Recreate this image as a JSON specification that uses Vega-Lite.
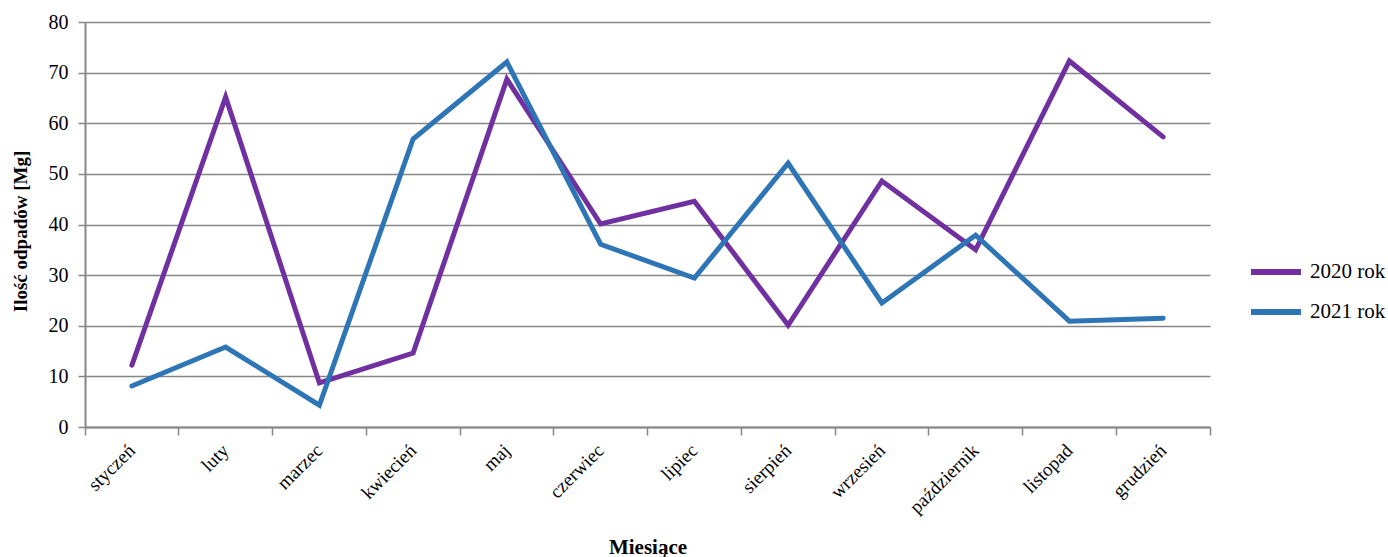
{
  "$schema": "https://vega.github.io/schema/vega-lite/v6.json",
  "autosize": "none",
  "width": 1125,
  "height": 405,
  "padding": {"left": 85, "top": 22, "right": 178, "bottom": 130},
  "background": "white",
  "config": {
    "font": "Liberation Serif",
    "view": {"stroke": null}
  },
  "data": {
    "values": [
      {"miesiac": "styczeń", "rok": "2020 rok", "wartosc": 12.2},
      {"miesiac": "luty", "rok": "2020 rok", "wartosc": 65.2},
      {"miesiac": "marzec", "rok": "2020 rok", "wartosc": 8.7},
      {"miesiac": "kwiecień", "rok": "2020 rok", "wartosc": 14.6},
      {"miesiac": "maj", "rok": "2020 rok", "wartosc": 68.7},
      {"miesiac": "czerwiec", "rok": "2020 rok", "wartosc": 40.1},
      {"miesiac": "lipiec", "rok": "2020 rok", "wartosc": 44.6},
      {"miesiac": "sierpień", "rok": "2020 rok", "wartosc": 20.1},
      {"miesiac": "wrzesień", "rok": "2020 rok", "wartosc": 48.6},
      {"miesiac": "październik", "rok": "2020 rok", "wartosc": 35.0},
      {"miesiac": "listopad", "rok": "2020 rok", "wartosc": 72.3},
      {"miesiac": "grudzień", "rok": "2020 rok", "wartosc": 57.3},
      {"miesiac": "styczeń", "rok": "2021 rok", "wartosc": 8.1},
      {"miesiac": "luty", "rok": "2021 rok", "wartosc": 15.8},
      {"miesiac": "marzec", "rok": "2021 rok", "wartosc": 4.3},
      {"miesiac": "kwiecień", "rok": "2021 rok", "wartosc": 56.9},
      {"miesiac": "maj", "rok": "2021 rok", "wartosc": 72.1},
      {"miesiac": "czerwiec", "rok": "2021 rok", "wartosc": 36.1},
      {"miesiac": "lipiec", "rok": "2021 rok", "wartosc": 29.4},
      {"miesiac": "sierpień", "rok": "2021 rok", "wartosc": 52.1},
      {"miesiac": "wrzesień", "rok": "2021 rok", "wartosc": 24.5},
      {"miesiac": "październik", "rok": "2021 rok", "wartosc": 37.9},
      {"miesiac": "listopad", "rok": "2021 rok", "wartosc": 20.9},
      {"miesiac": "grudzień", "rok": "2021 rok", "wartosc": 21.5}
    ]
  },
  "mark": {"type": "line", "strokeWidth": 5, "strokeJoin": "miter", "strokeCap": "round"},
  "encoding": {
    "x": {
      "field": "miesiac",
      "type": "nominal",
      "sort": null,
      "bandPosition": 0.5,
      "scale": {"type": "band", "paddingInner": 0, "paddingOuter": 0},
      "axis": {
        "title": "Miesiące",
        "titleFont": "Liberation Serif",
        "titleFontSize": 21,
        "titleFontWeight": "bold",
        "titleColor": "black",
        "titleY": 126,
        "titleBaseline": "alphabetic",
        "labelAngle": -45,
        "labelFontSize": 19,
        "labelColor": "black",
        "labelFont": "Liberation Serif",
        "labelAlign": "right",
        "labelBaseline": "middle",
        "bandPosition": 1,
        "tickExtra": true,
        "labelOffset": 0,
        "labelPadding": 12,
        "tickSize": 8,
        "tickColor": "#868686",
        "tickWidth": 1.5,
        "domainColor": "#868686",
        "domainWidth": 2,
        "grid": false
      }
    },
    "y": {
      "field": "wartosc",
      "type": "quantitative",
      "scale": {"domain": [0, 80], "nice": false},
      "axis": {
        "title": "Ilość odpadów [Mg]",
        "titleFont": "Liberation Serif",
        "titleFontSize": 19,
        "titleFontWeight": "bold",
        "titleColor": "black",
        "titleX": -65,
        "titleY": 209,
        "titleAngle": 270,
        "titleAlign": "center",
        "titleBaseline": "middle",
        "values": [0, 10, 20, 30, 40, 50, 60, 70, 80],
        "labelFontSize": 20,
        "labelColor": "black",
        "labelFont": "Liberation Serif",
        "labelPadding": 10,
        "tickSize": 7,
        "tickColor": "#868686",
        "tickWidth": 1.5,
        "domainColor": "#868686",
        "domainWidth": 2,
        "grid": true,
        "gridColor": "#868686",
        "gridWidth": 1.5
      }
    },
    "color": {
      "field": "rok",
      "type": "nominal",
      "scale": {"domain": ["2020 rok", "2021 rok"], "range": ["#7030A0", "#2E75B6"]},
      "legend": {
        "title": null,
        "orient": "none",
        "legendX": 1163,
        "legendY": 222,
        "symbolType": "stroke",
        "symbolSize": 2500,
        "symbolStrokeWidth": 6,
        "labelFontSize": 21,
        "labelFont": "Liberation Serif",
        "labelColor": "black",
        "labelOffset": 6,
        "rowPadding": 0
      }
    }
  }
}
